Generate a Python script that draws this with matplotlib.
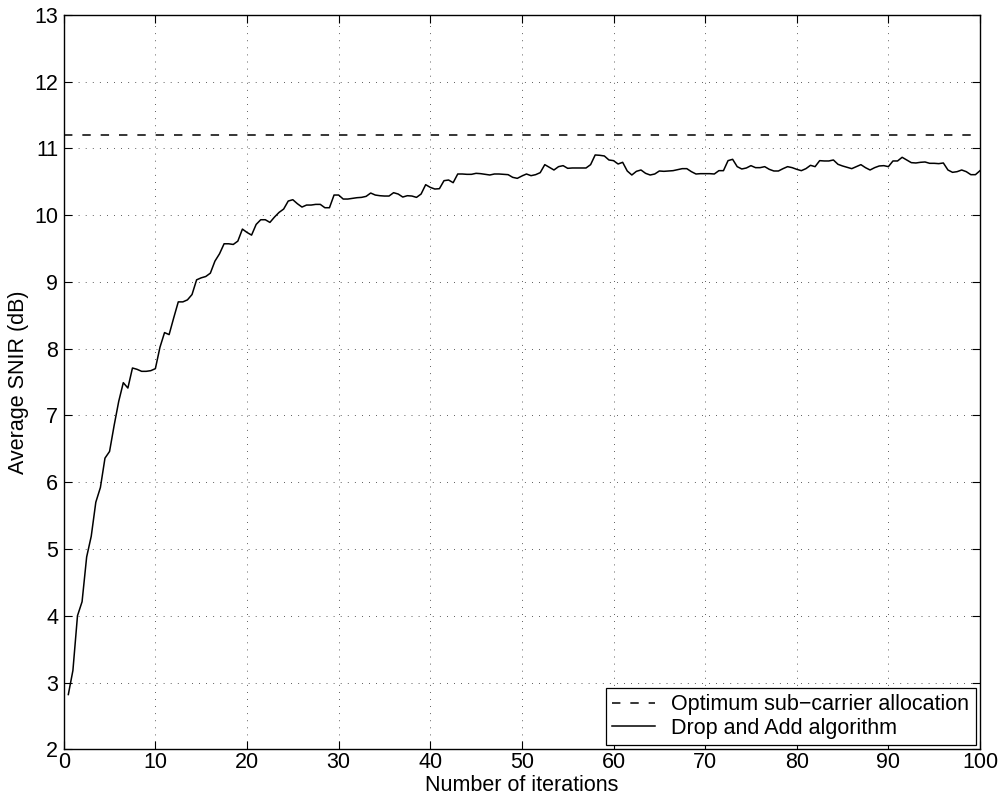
import numpy as np
import matplotlib
matplotlib.use("Agg")
import matplotlib.pyplot as plt

plt.rcParams['font.family'] = ['Liberation Sans', 'DejaVu Sans']

# Iteration index (half-iteration steps) and average SNIR of the drop-and-add run
iterations = np.arange(1, 201) * 0.5
snir_drop_add = [
    2.82, 3.18, 4.00, 4.21, 4.88, 5.19, 5.70, 5.92, 6.36, 6.46,
    6.85, 7.21, 7.49, 7.41, 7.71, 7.69, 7.66, 7.66, 7.67, 7.70,
    8.02, 8.24, 8.21, 8.46, 8.70, 8.70, 8.73, 8.81, 9.03, 9.06,
    9.08, 9.13, 9.31, 9.42, 9.57, 9.57, 9.56, 9.61, 9.79, 9.74,
    9.70, 9.86, 9.93, 9.93, 9.89, 9.97, 10.04, 10.09, 10.21, 10.23,
    10.17, 10.12, 10.15, 10.15, 10.16, 10.16, 10.11, 10.11, 10.30, 10.30,
    10.24, 10.24, 10.25, 10.26, 10.265, 10.28, 10.33, 10.30, 10.29, 10.285,
    10.285, 10.335, 10.315, 10.27, 10.29, 10.285, 10.265, 10.315, 10.455, 10.415,
    10.39, 10.395, 10.515, 10.525, 10.485, 10.615, 10.615, 10.61, 10.61, 10.625,
    10.62, 10.61, 10.60, 10.615, 10.615, 10.61, 10.605, 10.565, 10.55, 10.585,
    10.615, 10.59, 10.605, 10.635, 10.755, 10.715, 10.675, 10.725, 10.74, 10.70,
    10.705, 10.705, 10.705, 10.705, 10.755, 10.90, 10.895, 10.885, 10.825, 10.815,
    10.765, 10.79, 10.66, 10.60, 10.655, 10.675, 10.625, 10.60, 10.615, 10.66,
    10.655, 10.66, 10.665, 10.68, 10.695, 10.695, 10.65, 10.615, 10.62, 10.62,
    10.62, 10.615, 10.665, 10.665, 10.815, 10.835, 10.725, 10.69, 10.705, 10.74,
    10.71, 10.71, 10.725, 10.685, 10.66, 10.66, 10.695, 10.725, 10.71, 10.685,
    10.665, 10.695, 10.745, 10.725, 10.815, 10.81, 10.81, 10.825, 10.76, 10.735,
    10.715, 10.695, 10.725, 10.755, 10.71, 10.675, 10.71, 10.735, 10.74, 10.725,
    10.81, 10.81, 10.865, 10.825, 10.785, 10.78, 10.79, 10.795, 10.775, 10.775,
    10.77, 10.78, 10.675, 10.64, 10.65, 10.675, 10.65, 10.605, 10.605, 10.665,
]
snir_optimum = 11.2

x_ticks = np.arange(0, 101, 10)
y_ticks = np.arange(2, 14, 1)

FS = 15.5

fig = plt.figure(figsize=(10.07, 8.05), dpi=100)
ax = fig.add_axes([0.0633, 0.0692, 0.9099, 0.9125])

ax.axhline(snir_optimum, color='black', lw=1.1, ls=(0, (5.5, 6.5)),
           label='Optimum sub\u2212carrier allocation')
ax.plot(iterations, snir_drop_add, color='black', lw=1.1,
        label='Drop and Add algorithm')

ax.set_xlim(0, 100)
ax.set_ylim(2, 13)
ax.set_xticks(x_ticks)
ax.set_yticks(y_ticks)
ax.tick_params(direction='in', top=True, right=True, length=5.5, width=0.8,
               labelsize=FS, pad=4)
ax.tick_params(axis='x', pad=2)
ax.grid(True, color='black', ls=(0, (1, 7.5)), lw=0.6, alpha=0.85)
for sp in ax.spines.values():
    sp.set_linewidth(1.0)

ax.set_xlabel('Number of iterations', fontsize=FS, labelpad=1.5)
ax.set_ylabel('Average SNIR (dB)', fontsize=FS, labelpad=4)

leg = ax.legend(loc='lower right', fontsize=FS, frameon=True, fancybox=False,
                edgecolor='black', framealpha=1, borderaxespad=0.2,
                handlelength=2.0, labelspacing=0.1, borderpad=0.3,
                handletextpad=0.75)
leg.get_frame().set_linewidth(0.9)

fig.savefig('out.png', dpi=100)
